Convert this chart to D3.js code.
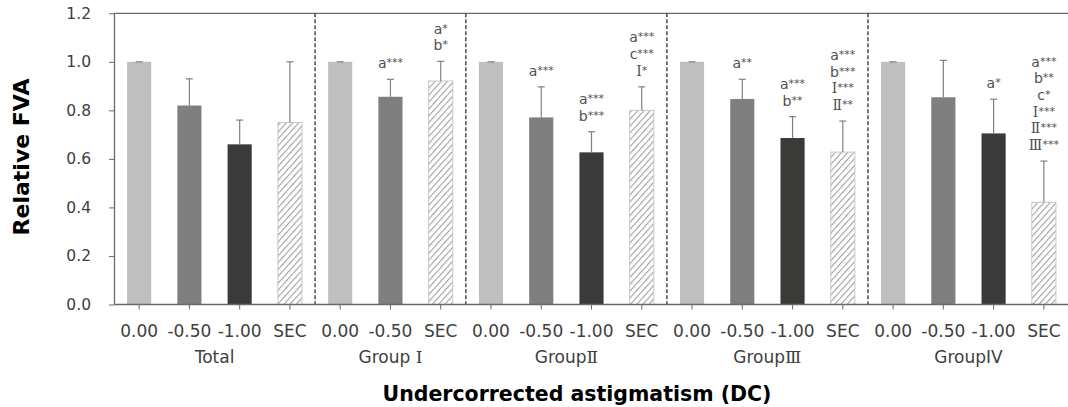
<!DOCTYPE html>
<html>
<head>
<meta charset="utf-8">
<script src="https://cdn.jsdelivr.net/npm/d3@7"></script>
<style>
  body { margin: 0; background: #fff; }
  text { font-family: "DejaVu Sans", sans-serif; }
</style>
</head>
<body>
<div id="chart"></div>
<script>
// groups and their levels of undercorrection
const groups = ["Total", "Group Ⅰ", "GroupⅡ", "GroupⅢ", "GroupIV"];
const levels = [
  ["0.00", "-0.50", "-1.00", "SEC"],
  ["0.00", "-0.50", "SEC"],
  ["0.00", "-0.50", "-1.00", "SEC"],
  ["0.00", "-0.50", "-1.00", "SEC"],
  ["0.00", "-0.50", "-1.00", "SEC"]
];
// relative FVA (mean) and upper SD
const means = [
  [1.0, 0.82, 0.66, 0.75],
  [1.0, 0.856, 0.921],
  [1.0, 0.771, 0.627, 0.80],
  [1.0, 0.847, 0.686, 0.628],
  [1.0, 0.854, 0.705, 0.421]
];
const sds = [
  [0, 0.11, 0.10, 0.25],
  [0, 0.072, 0.081],
  [0, 0.126, 0.085, 0.097],
  [0, 0.081, 0.088, 0.128],
  [0, 0.152, 0.141, 0.170]
];
// significance marks above bars
const marks = [
  [[], [], [], []],
  [[], ["a***"], ["a*", "b*"]],
  [[], ["a***"], ["a***", "b***"], ["a***", "c***", "Ⅰ*"]],
  [[], ["a**"], ["a***", "b**"], ["a***", "b***", "Ⅰ***", "Ⅱ**"]],
  [[], [], ["a*"], ["a***", "b**", "c*", "Ⅰ***", "Ⅱ***", "Ⅲ***"]]
];
const yTicks = [0, 0.2, 0.4, 0.6, 0.8, 1.0, 1.2];

const fills = {"0.00": "#bfbfbf", "-0.50": "#7f7f7f", "-1.00": "#3a3a38", "SEC": "url(#hatch)"};
const romanFont = "'DejaVu Serif', 'DejaVu Sans', serif";

// flatten into one row per bar
let rows = [];
groups.forEach((g, gi) => {
  levels[gi].forEach((lv, li) => {
    rows.push({id: gi + "-" + li, group: gi, level: lv, mean: means[gi][li], sd: sds[gi][li], marks: marks[gi][li]});
  });
});

const W = 1068, H = 407;
const plotLeft = 114, plotRight = 1069, plotTop = 13.3, plotBottom = 304.5;

let svg = d3.select("#chart").append("svg")
  .attr("width", W).attr("height", H);

let defs = svg.append("defs");
let pat = defs.append("pattern")
  .attr("id", "hatch")
  .attr("patternUnits", "userSpaceOnUse")
  .attr("width", 4.6).attr("height", 4.6)
  .attr("patternTransform", "rotate(42)");
pat.append("rect").attr("width", 4.6).attr("height", 4.6).attr("fill", "#fff");
pat.append("line").attr("x1", 0).attr("y1", 0).attr("x2", 0).attr("y2", 4.6)
  .attr("stroke", "#a0a0a0").attr("stroke-width", 2.2);

let x = d3.scaleBand()
  .domain(rows.map(d => d.id))
  .range([plotLeft, plotRight])
  .paddingInner(0.52)
  .paddingOuter(0.26);

let y = d3.scaleLinear()
  .domain([0, 1.2])
  .range([plotBottom, plotTop]);

// top border
svg.append("line")
  .attr("x1", plotLeft).attr("x2", W).attr("y1", y(1.2)).attr("y2", y(1.2))
  .attr("stroke", "#6a6a6a").attr("stroke-width", 1.3);

// bars
svg.append("g").selectAll("rect")
  .data(rows)
  .enter()
  .append("rect")
    .attr("x", d => x(d.id))
    .attr("width", x.bandwidth())
    .attr("y", d => y(d.mean))
    .attr("height", d => y(0) - y(d.mean))
    .attr("fill", d => fills[d.level])
    .attr("stroke", d => d.level == "SEC" ? "#c8c8c8" : "none")
    .attr("stroke-width", 1);

// error bars (upper only)
let eb = svg.append("g").attr("stroke", "#808080").attr("stroke-width", 1.2);
rows.forEach(d => {
  let cx = x(d.id) + x.bandwidth() / 2;
  eb.append("line").attr("x1", cx).attr("x2", cx).attr("y1", y(d.mean)).attr("y2", y(d.mean + d.sd));
  eb.append("line").attr("x1", cx - 3.5).attr("x2", cx + 3.5).attr("y1", y(d.mean + d.sd)).attr("y2", y(d.mean + d.sd));
});

// significance labels
let ann = svg.append("g").attr("fill", "#505050").attr("font-size", 14).attr("text-anchor", "middle");
rows.forEach(d => {
  let cx = x(d.id) + x.bandwidth() / 2;
  let n = d.marks.length;
  d.marks.forEach((m, i) => {
    let base = y(d.mean + d.sd) - 11 - (n - 1 - i) * 16.7;
    let letter = m.replace(/\*+$/, "");
    let stars = m.slice(letter.length);
    let t = ann.append("text").attr("x", cx).attr("y", base);
    let lt = t.append("tspan").text(letter);
    if (/[ⅠⅡⅢ]/.test(letter)) lt.attr("font-family", romanFont);
    t.append("tspan").attr("font-size", 11).attr("dy", -2).text(stars);
  });
});

// group separators
let ends = [];
let k = 0;
levels.forEach((lv, gi) => { k += lv.length; ends.push(k); });
ends.slice(0, -1).forEach(e => {
  let xx = (x(rows[e - 1].id) + x.bandwidth() + x(rows[e].id)) / 2;
  svg.append("line")
    .attr("x1", xx).attr("x2", xx).attr("y1", y(1.2)).attr("y2", y(0))
    .attr("stroke", "#404040").attr("stroke-width", 1.4)
    .attr("stroke-dasharray", "4,2");
});

// x axis
let xAxis = svg.append("g")
  .attr("transform", "translate(0," + y(0) + ")")
  .call(d3.axisBottom(x).tickSizeOuter(0).tickSize(5).tickFormat(id => rows.find(r => r.id == id).level));
xAxis.select(".domain").attr("stroke", "#6a6a6a").attr("stroke-width", 1.3).attr("d", "M" + plotLeft + ",0H" + W);
xAxis.selectAll(".tick line").attr("stroke", "#6a6a6a");
xAxis.selectAll(".tick text").attr("font-size", 17).attr("fill", "#404040").attr("y", 32).attr("dy", 0)
  .attr("font-family", "DejaVu Sans, sans-serif");

// group labels
groups.forEach((g, gi) => {
  let ids = rows.filter(r => r.group == gi);
  let c = (x(ids[0].id) + x(ids[ids.length - 1].id) + x.bandwidth()) / 2;
  let t = svg.append("text")
    .attr("x", c).attr("y", 363)
    .attr("text-anchor", "middle")
    .attr("font-size", 17).attr("fill", "#404040")
    .attr("font-family", "DejaVu Sans, sans-serif");
  let m = g.match(/^(.*?)([ⅠⅡⅢ]?)$/);
  t.append("tspan").text(m[1]);
  if (m[2]) t.append("tspan").attr("font-family", romanFont).text(m[2]);
});

// y axis
let yAxis = svg.append("g")
  .attr("transform", "translate(" + plotLeft + ",0)")
  .call(d3.axisLeft(y).tickValues(yTicks).tickSize(5).tickSizeOuter(0).tickFormat(d3.format(".1f")));
yAxis.select(".domain").attr("stroke", "#6a6a6a").attr("stroke-width", 1.3);
yAxis.selectAll(".tick line").attr("stroke", "#6a6a6a");
yAxis.selectAll(".tick text").attr("font-size", 15.5).attr("fill", "#404040").attr("x", -23)
  .attr("font-family", "DejaVu Sans, sans-serif");

// titles
svg.append("text")
  .attr("x", 577).attr("y", 401)
  .attr("text-anchor", "middle")
  .attr("font-family", "Liberation Sans, Arial, sans-serif")
  .attr("font-weight", "bold").attr("font-size", 20.5)
  .text("Undercorrected astigmatism (DC)");

svg.append("text")
  .attr("transform", "translate(29,157) rotate(-90)")
  .attr("text-anchor", "middle")
  .attr("font-family", "Liberation Sans, Arial, sans-serif")
  .attr("font-weight", "bold").attr("font-size", 22)
  .text("Relative FVA");
</script>
</body>
</html>
